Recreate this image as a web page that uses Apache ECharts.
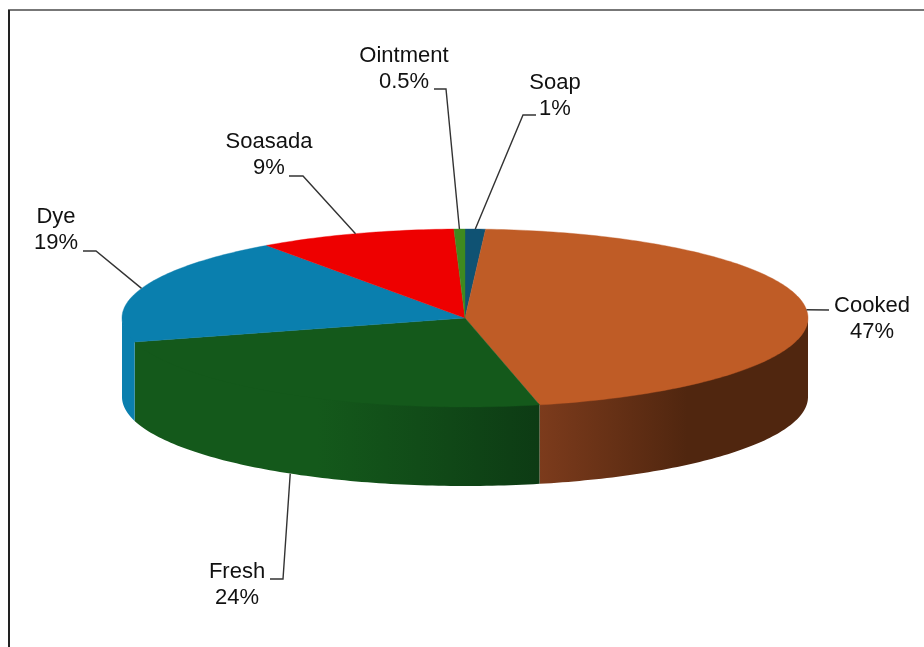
<!DOCTYPE html>
<html>
<head>
<meta charset="utf-8">
<style>html,body{margin:0;padding:0;background:#fff}#chart{width:924px;height:647px}</style>
<script src="https://cdn.jsdelivr.net/npm/echarts@6/dist/echarts.min.js"></script>
</head>
<body>
<div id="chart"></div>
<script>
// Share of use by preparation type, clockwise from twelve o'clock
const categories = ['Soap', 'Cooked', 'Fresh', 'Dye', 'Soasada', 'Ointment'];
const shares = [1, 47, 24, 19, 9, 0.5];

const topColors = ['#0f5273', '#bf5c26', '#14591b', '#0a7fae', '#ee0000', '#3f8a1f'];
const sideFills = [
  '#0f5273',
  [[0, '#7c3b1c'], [0.55, '#50260f'], [1, '#50260f']],
  [[0, '#14591b'], [0.45, '#14591b'], [0.7, '#114c18'], [1, '#0d3b14']],
  '#0a7fae',
  '#ee0000',
  '#3f8a1f'
];

// Leader elbows (x, y, end of the horizontal run) and label centres, page pixels
const elbows = [
  [523, 115, 536],
  [829, 310, 829],
  [283, 579, 270],
  [96, 251, 83],
  [303, 176, 289],
  [446, 89, 434]
];
const labelCentres = [[555, 96], [872, 319], [237, 585], [56, 230], [269, 155], [404, 69]];

// Disc geometry: centre, radii and wall height
const CX = 465, CY = 318, RX = 343, RY = 89, DEPTH = 79;
const RAD = Math.PI / 180;
const total = shares.reduce((a, b) => a + b, 0);

// The tilted view compresses angles slightly towards the front of the disc
const viewAngle = t => t - 4.5 * Math.sin(t / 2 * RAD);
const rim = (t, drop = 0) => {
  const a = viewAngle(t) * RAD;
  return [CX + RX * Math.sin(a), CY - RY * Math.cos(a) + drop];
};
const sliceRange = i => {
  const before = shares.slice(0, i).reduce((a, b) => a + b, 0);
  return [before / total * 360, (before + shares[i]) / total * 360];
};
const arc = (from, to, drop) => {
  const pts = [];
  const steps = Math.max(2, Math.ceil(Math.abs(to - from)));
  for (let s = 0; s <= steps; s++) pts.push(rim(from + (to - from) * s / steps, drop));
  return pts;
};
// Pie angles that land on the right-most and left-most points of the ellipse
const solveScreenAngle = screen => {
  let t = screen;
  for (let k = 0; k < 8; k++) t = screen + 4.5 * Math.sin(t / 2 * RAD);
  return t;
};
const frontLimit = solveScreenAngle(90);
const leftEdge = solveScreenAngle(270);

// Walls start just under the top face so no seam shows along the rim
const renderSide = (params, api) => {
  const i = params.dataIndex;
  const [a, b] = sliceRange(i);
  const from = Math.max(a, frontLimit), to = Math.min(b, leftEdge);
  if (to <= from) return { type: 'group', children: [] };
  const points = arc(from, to, -1.5).concat(arc(from, to, DEPTH).reverse());
  const f = sideFills[i];
  const fill = Array.isArray(f)
    ? { type: 'linear', x: 0, y: 0, x2: 1, y2: 0, colorStops: f.map(([offset, color]) => ({ offset, color })) }
    : f;
  return { type: 'polygon', shape: { points }, style: { fill } };
};

const renderTop = (params, api) => {
  const i = params.dataIndex;
  const [a, b] = sliceRange(i);
  const points = [[CX, CY]].concat(arc(a, b, 0));
  return { type: 'polygon', shape: { points }, style: { fill: topColors[i], stroke: topColors[i], lineWidth: 0.4 } };
};

const renderLabel = (params, api) => {
  const i = params.dataIndex;
  const [a, b] = sliceRange(i);
  const mid = (a + b) / 2;
  const onWall = mid > frontLimit && mid < leftEdge;
  const start = rim(mid, onWall ? DEPTH : 0);
  const [ex, ey, tx] = elbows[i];
  const [lx, ly] = labelCentres[i];
  return {
    type: 'group',
    children: [
      {
        type: 'polyline',
        shape: { points: [start, [ex, ey], [tx, ey]] },
        style: { fill: null, stroke: '#333', lineWidth: 1.4 }
      },
      {
        type: 'text',
        style: {
          text: categories[i] + '\n' + api.value(0) + '%',
          x: lx, y: ly,
          align: 'center', verticalAlign: 'middle',
          fontFamily: 'Liberation Sans', fontSize: 22, lineHeight: 26,
          fill: '#111'
        }
      }
    ]
  };
};

const seriesData = shares.map(v => [v]);
const chart = echarts.init(document.getElementById('chart'), null, { renderer: 'canvas' });
chart.setOption({
  animation: false,
  backgroundColor: '#fff',
  graphic: [
    { type: 'rect', shape: { x: 8, y: 9, width: 916, height: 2 }, style: { fill: '#777' }, silent: true },
    { type: 'rect', shape: { x: 8, y: 10, width: 2, height: 637 }, style: { fill: '#222' }, silent: true }
  ],
  series: [
    { type: 'custom', coordinateSystem: 'none', silent: true, z: 1, data: seriesData, renderItem: renderSide },
    { type: 'custom', coordinateSystem: 'none', silent: true, z: 2, data: seriesData, renderItem: renderTop },
    { type: 'custom', coordinateSystem: 'none', silent: true, z: 3, data: seriesData, renderItem: renderLabel }
  ]
});
</script>
</body>
</html>
